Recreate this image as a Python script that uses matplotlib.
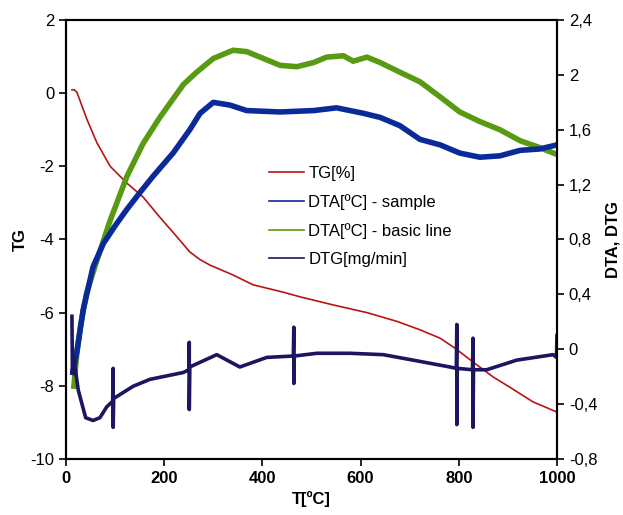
import matplotlib
matplotlib.use("Agg")
import matplotlib.pyplot as plt
from matplotlib.lines import Line2D
from matplotlib.ticker import FuncFormatter, MultipleLocator

plt.rcParams['font.family'] = ['Liberation Sans', 'DejaVu Sans']

# TG [%] - left axis
tg_t = [12, 16, 22, 43, 63, 90, 124, 157, 191, 226, 252, 273, 293, 340, 381, 442, 477,
        544, 613, 674, 721, 762, 792, 829, 870, 911, 951, 1000]
tg = [0.09, 0.1, 0.03, -0.73, -1.36, -2.0, -2.46, -2.84, -3.39, -3.93, -4.34, -4.55,
      -4.7, -4.97, -5.24, -5.44, -5.57, -5.79, -6.0, -6.24, -6.47, -6.7, -6.97, -7.35,
      -7.76, -8.1, -8.44, -8.72]

# DTA sample - right axis
dta_t = [14, 22, 35, 55, 76, 100, 124, 150, 177, 218, 252, 273, 300, 334, 368, 436,
         504, 551, 606, 640, 680, 721, 762, 802, 843, 884, 925, 965, 1000]
dta = [-0.17, -0.02, 0.29, 0.60, 0.77, 0.9, 1.02, 1.14, 1.26, 1.43, 1.60, 1.72, 1.80,
       1.78, 1.74, 1.73, 1.74, 1.76, 1.72, 1.69, 1.63, 1.53, 1.49, 1.43, 1.40, 1.41,
       1.45, 1.46, 1.49]

# DTA basic line - right axis
base_t = [16, 22, 30, 42, 63, 90, 124, 157, 191, 239, 266, 300, 340, 368, 402, 436,
          470, 504, 531, 565, 585, 613, 640, 680, 721, 762, 802, 843, 884, 925, 965,
          1000]
base = [-0.27, -0.03, 0.18, 0.41, 0.65, 0.94, 1.26, 1.50, 1.69, 1.93, 2.02, 2.12, 2.18,
        2.17, 2.12, 2.07, 2.06, 2.09, 2.13, 2.14, 2.10, 2.13, 2.09, 2.02, 1.95, 1.84,
        1.73, 1.66, 1.60, 1.52, 1.47, 1.42]

# DTG [mg/min] - right axis (spikes kept as read)
dtg_t = [12, 13, 15, 25, 40, 55, 69, 83, 95, 96, 96, 97, 137, 171, 239, 250, 251, 251,
         252, 307, 354, 409, 463, 464, 464, 465, 511, 578, 646, 707, 782, 795, 796, 796,
         797, 828, 829, 829, 830, 857, 918, 992, 999, 1000]
dtg = [0.24, -0.17, -0.05, -0.3, -0.5, -0.52, -0.5, -0.42, -0.38, -0.14, -0.57, -0.36,
       -0.27, -0.22, -0.17, -0.15, 0.05, -0.44, -0.13, -0.04, -0.13, -0.06, -0.05, 0.16,
       -0.25, -0.05, -0.03, -0.03, -0.04, -0.08, -0.13, -0.14, 0.18, -0.55, -0.14, -0.15,
       0.08, -0.57, -0.15, -0.15, -0.08, -0.04, -0.06, 0.1]

labels = ["TG[%]", "DTA[ºC] - sample", "DTA[ºC] - basic line", "DTG[mg/min]"]
colors = ["#b81414", "#0a2a9a", "#589a12", "#1c1560"]

fig = plt.figure(figsize=(6.23, 5.15), dpi=100)
ax = fig.add_axes([0.106, 0.109, 0.788, 0.852])
ax2 = ax.twinx()

ax.plot(tg_t, tg, color=colors[0], lw=1.2)
ax2.plot(base_t, base, color=colors[2], lw=4, solid_joinstyle="round")
ax2.plot(dta_t, dta, color=colors[1], lw=4, solid_joinstyle="round")
ax2.plot(dtg_t, dtg, color=colors[3], lw=2.6, solid_joinstyle="round")

ax.set_xlim(0, 1000)
ax.set_ylim(-10, 2)
ax2.set_ylim(-0.8, 2.4)
ax.xaxis.set_major_locator(MultipleLocator(200))
ax.yaxis.set_major_locator(MultipleLocator(2))
ax2.yaxis.set_major_locator(MultipleLocator(0.4))


def comma(v, p):
    if abs(v - round(v)) < 1e-9:
        return f"{v:.0f}"
    return f"{v:.1f}".replace(".", ",")


ax2.yaxis.set_major_formatter(FuncFormatter(comma))
ax.yaxis.set_major_formatter(FuncFormatter(lambda v, p: f"{v:.0f}"))

for a in (ax, ax2):
    a.tick_params(direction="out", length=5, width=1.2, labelsize=12)
    for s in a.spines.values():
        s.set_linewidth(1.5)
for lab in ax.get_xticklabels():
    lab.set_fontweight("bold")

ax.set_xlabel("T[ºC]", fontsize=12, fontweight="bold", labelpad=4)
ax.set_ylabel("TG", fontsize=12, fontweight="bold", labelpad=2)
ax2.set_ylabel("DTA, DTG", fontsize=12, fontweight="bold", labelpad=6)

handles = [Line2D([], [], color=c, lw=1.2) for c in colors]
ax2.legend(handles, labels, loc="upper left", bbox_to_anchor=(0.414, 0.667),
           frameon=False, fontsize=12, handlelength=2.1, labelspacing=0.78,
           handletextpad=0.25, borderpad=0, borderaxespad=0)

fig.savefig("out.png", dpi=100)
